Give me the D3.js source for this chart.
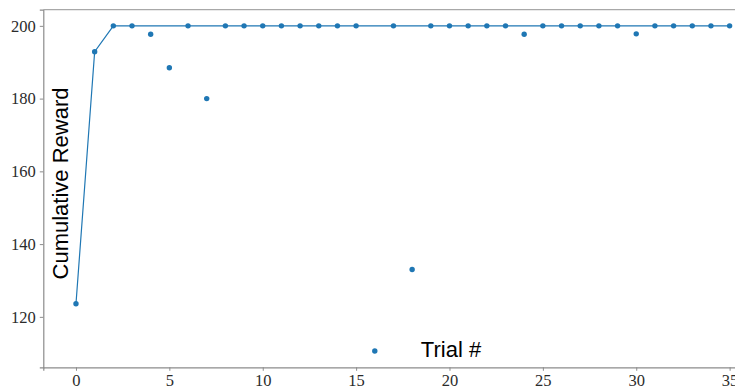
<!DOCTYPE html>
<html>
<head>
<meta charset="utf-8">
<script src="https://cdn.jsdelivr.net/npm/d3@7"></script>
<style>
  html, body { margin: 0; padding: 0; background: #fff; }
  svg { display: block; }
</style>
</head>
<body>
<svg id="chart" width="735" height="390"></svg>
<script>
// Reward collected in each trial
const trials = d3.range(0, 36);
const rewards = [
  123.6, 192.9, 200, 200, 197.7, 188.5, 200, 180.0, 200, 200,
  200, 200, 200, 200, 200, 200, 110.6, 200, 133.0, 200,
  200, 200, 200, 200, 197.7, 200, 200, 200, 200, 200,
  197.8, 200, 200, 200, 200, 200
];
// Best reward reached so far
const bestSoFar = [
  123.6, 192.9, 200, 200, 200, 200, 200, 200, 200, 200,
  200, 200, 200, 200, 200, 200, 200, 200, 200, 200,
  200, 200, 200, 200, 200, 200, 200, 200, 200, 200,
  200, 200, 200, 200, 200, 200
];
const xTicks = [0, 5, 10, 15, 20, 25, 30, 35];
const yTicks = [120, 140, 160, 180, 200];

const svg = d3.select("#chart");
const plotLeft = 43.3, plotTop = 9.6, plotBottom = 367.3, plotRight = 762.3;
const blue = "#1f77b4";

// 5% padding around the data, as in a default plot
const xPad = (d3.max(trials) - d3.min(trials)) * 0.05;
const [ymin, ymax] = d3.extent(rewards);
const yPad = (ymax - ymin) * 0.05;

const x = d3.scaleLinear()
  .domain([d3.min(trials) - xPad, d3.max(trials) + xPad])
  .range([plotLeft, plotRight]);
const y = d3.scaleLinear()
  .domain([ymin - yPad, ymax + yPad])
  .range([plotBottom, plotTop]);

// Axes
const xAxis = svg.append("g")
  .attr("transform", `translate(0,${plotBottom})`)
  .call(d3.axisBottom(x).tickValues(xTicks).tickSize(3.5).tickPadding(3).tickFormat(d3.format("d")));
const yAxis = svg.append("g")
  .attr("transform", `translate(${plotLeft},0)`)
  .call(d3.axisLeft(y).tickValues(yTicks).tickSize(3.5).tickPadding(4).tickFormat(d3.format("d")));

[xAxis, yAxis].forEach(g => {
  g.select(".domain").attr("stroke", "#8c8c8c").attr("stroke-width", 1.2);
  g.selectAll(".tick line").attr("stroke", "#8c8c8c").attr("stroke-width", 1);
  g.selectAll(".tick text")
    .attr("fill", "#2b2b2b")
    .style("font-family", "'Liberation Serif', 'Times New Roman', serif")
    .style("font-size", "16.5px");
});

// Top frame line
svg.append("line")
  .attr("x1", plotLeft).attr("x2", 735)
  .attr("y1", plotTop).attr("y2", plotTop)
  .attr("stroke", "#a8a8a8").attr("stroke-width", 1.2);

// Best-so-far line
svg.append("path")
  .datum(trials)
  .attr("fill", "none")
  .attr("stroke", blue)
  .attr("stroke-width", 1.2)
  .attr("d", d3.line().x(i => x(i)).y(i => y(bestSoFar[i])));

// Per-trial rewards
svg.append("g")
  .selectAll("circle")
  .data(trials)
  .join("circle")
  .attr("cx", i => x(i))
  .attr("cy", i => y(rewards[i]))
  .attr("r", 2.7)
  .attr("fill", blue);

// Axis titles
svg.append("text")
  .attr("transform", "translate(68.3,183.5) rotate(-90)")
  .attr("text-anchor", "middle")
  .style("font-family", "'Liberation Sans', Arial, sans-serif")
  .style("font-size", "22px")
  .attr("fill", "#000")
  .text("Cumulative Reward");

svg.append("text")
  .attr("x", 451)
  .attr("y", 356.7)
  .attr("text-anchor", "middle")
  .style("font-family", "'Liberation Sans', Arial, sans-serif")
  .style("font-size", "22px")
  .attr("fill", "#000")
  .text("Trial #");
</script>
</body>
</html>
